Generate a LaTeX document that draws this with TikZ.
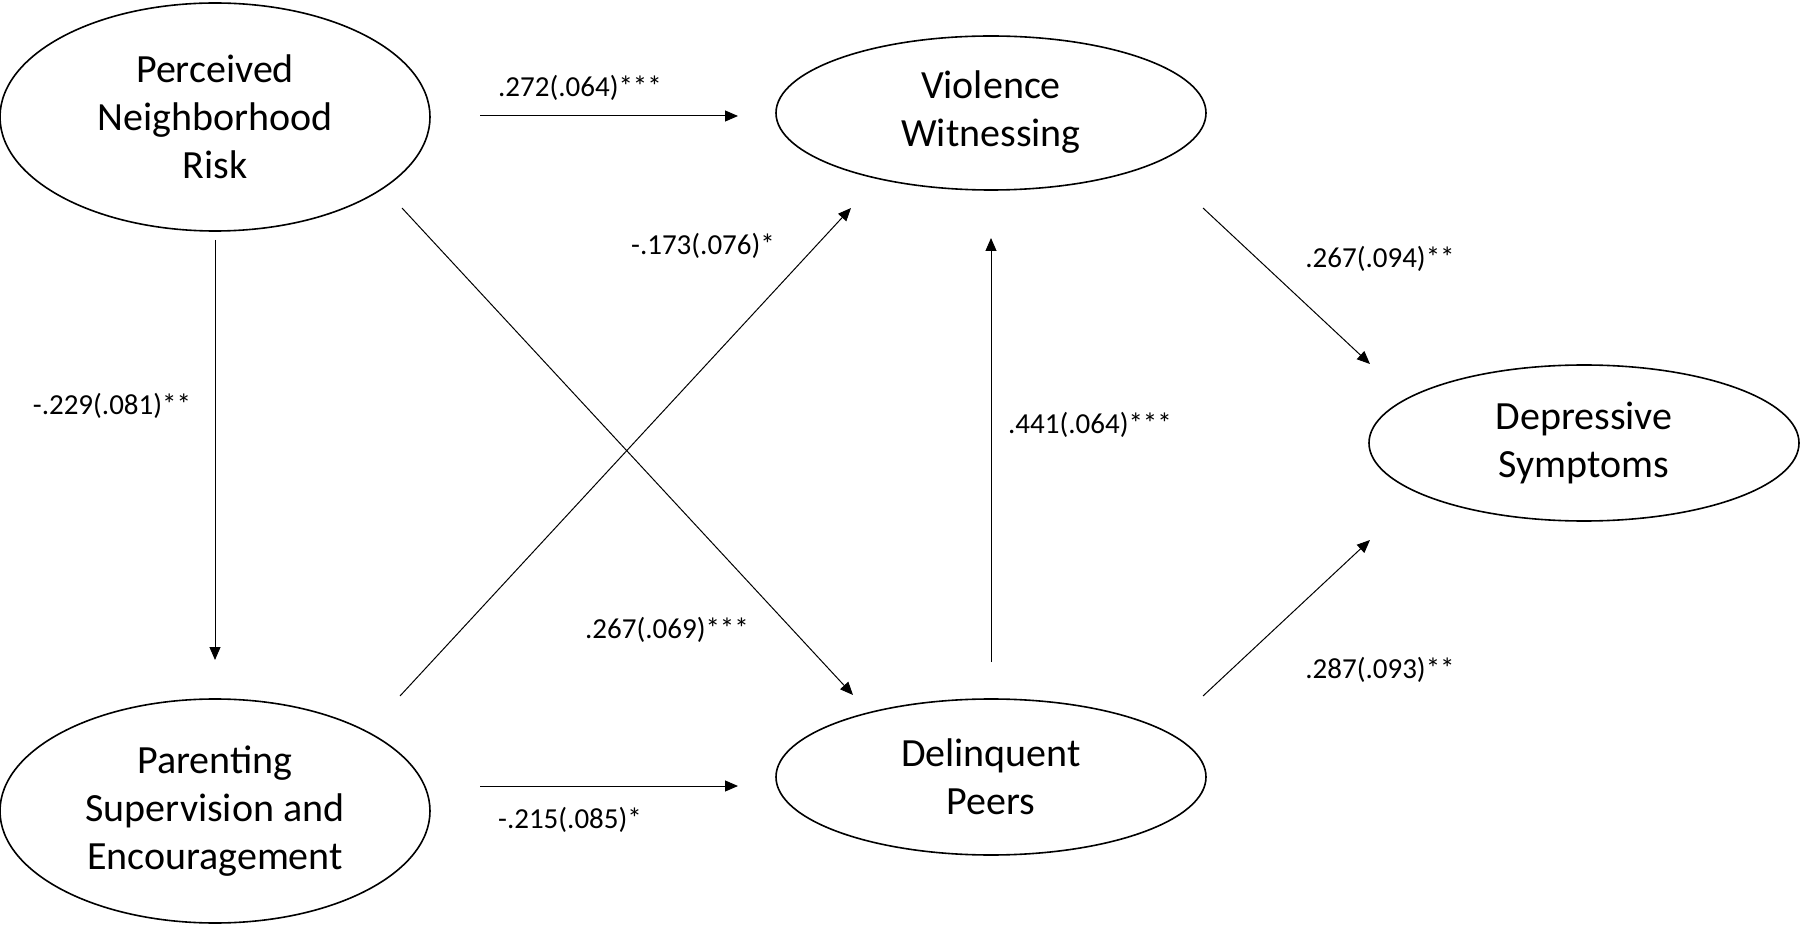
\documentclass[tikz,border=0pt]{standalone}
\usepackage{fontspec}
\setmainfont{Carlito}
\usetikzlibrary{shapes.geometric,arrows.meta}
\newcommand{\shifted}[2]{\raisebox{#1}{\begin{tabular}{@{}c@{}}#2\end{tabular}}}
\begin{document}
\begin{tikzpicture}[x=0.5pt,y=-0.5pt,
  latent/.style={ellipse,draw,line width=0.8pt,inner sep=0pt,align=center,
    minimum width=215pt,font=\fontsize{20}{24}\selectfont},
  arr/.style={line width=0.5pt,-{Triangle[length=6.5pt,width=5.5pt]}},
  coef/.style={font=\fontsize{14.5}{17}\selectfont,inner sep=0pt}]
\useasboundingbox (0,0) rectangle (1800,930);
\node[latent,minimum height=114pt] (pnr) at (215,117) {Perceived\\Neighborhood\\Risk};
\node[latent,minimum height=77pt] (vw) at (991,113) {\shifted{4pt}{Violence\\Witnessing}};
\node[latent,minimum height=78pt] (ds) at (1584,443) {Depressive\\Symptoms};
\node[latent,minimum height=112pt] (pse) at (215,811) {Parenting\\Supervision and\\Encouragement};
\node[latent,minimum height=78pt] (dp) at (991,777) {Delinquent\\Peers};
% connector end points
\coordinate (a1) at (480,116); \coordinate (b1) at (738,116);
\coordinate (a2) at (215,240); \coordinate (b2) at (215,660);
\coordinate (a3) at (402,208); \coordinate (b3) at (853,695);
\coordinate (a4) at (400,696); \coordinate (b4) at (851,208);
\coordinate (a5) at (480,786); \coordinate (b5) at (738,786);
\coordinate (a6) at (991,662); \coordinate (b6) at (991,238);
\coordinate (a7) at (1203,208); \coordinate (b7) at (1370,364);
\coordinate (a8) at (1203,696); \coordinate (b8) at (1370,540);
\draw[arr] (a1) -- (b1);
\draw[arr] (a2) -- (b2);
\draw[arr] (a3) -- (b3);
\draw[arr] (a4) -- (b4);
\draw[arr] (a5) -- (b5);
\draw[arr] (a6) -- (b6);
\draw[arr] (a7) -- (b7);
\draw[arr] (a8) -- (b8);
\node[coef] (l1) at (580,88) {.272(.064)***};
\node[coef] (l2) at (112,406) {-.229(.081)**};
\node[coef] (l3) at (667,630) {.267(.069)***};
\node[coef] (l4) at (703,246) {-.173(.076)*};
\node[coef] (l5) at (570,820) {-.215(.085)*};
\node[coef] (l6) at (1090,425) {.441(.064)***};
\node[coef] (l7) at (1380,259) {.267(.094)**};
\node[coef] (l8) at (1380,670) {.287(.093)**};
\end{tikzpicture}
\end{document}
